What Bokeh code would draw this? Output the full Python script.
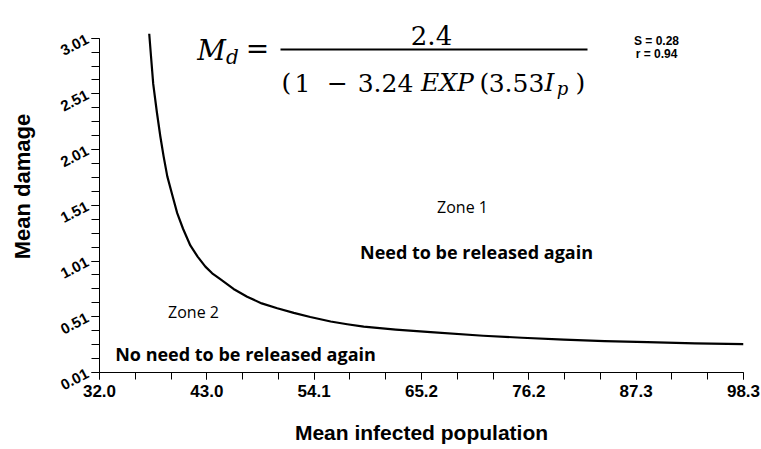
from bokeh.plotting import figure
from bokeh.models import Range1d, FixedTicker, Label, BoxAnnotation
from bokeh.embed import file_html
from bokeh.resources import INLINE

# ---- data ----
infected = [37.12, 37.3, 37.53, 37.9, 38.26, 38.6, 38.98, 39.5, 40.0, 40.6, 41.35, 42.1,
            42.9, 43.6, 44.4, 45.8, 47.2, 48.7, 50.3, 52.0, 53.7, 55.8, 57.5, 59.2,
            62.5, 66.1, 71.5, 75.5, 79.8, 84.0, 88.4, 93.3, 98.3]
damage = [3.05, 2.85, 2.60, 2.35, 2.13, 1.95, 1.77, 1.60, 1.44, 1.30, 1.15, 1.05,
          0.96, 0.90, 0.85, 0.76, 0.69, 0.63, 0.586, 0.545, 0.508, 0.468, 0.443, 0.421,
          0.395, 0.372, 0.340, 0.322, 0.305, 0.292, 0.282, 0.272, 0.264]

x_ticks = [32.0, 43.05, 54.1, 65.15, 76.2, 87.25, 98.3]
x_tick_labels = ["32.0", "43.0", "54.1", "65.2", "76.2", "87.3", "98.3"]
y_ticks = [0.01, 0.51, 1.01, 1.51, 2.01, 2.51, 3.01]
y_tick_labels = ["0.01", "0.51", "1.01", "1.51", "2.01", "2.51", "3.01"]

X0, X1 = 32.0, 98.3
Y0, Y1 = 0.01, 3.01

# pixel helpers for annotation placement (page px -> data)
PX0, PX1 = 99.0, 743.0
PY0, PY1 = 372.0, 37.7
def dx(px):
    return X0 + (px - PX0) * (X1 - X0) / (PX1 - PX0)
def dy(py):
    return Y0 + (PY0 - py) * (Y1 - Y0) / (PY0 - PY1)

p = figure(width=760, height=449, output_backend="svg", toolbar_location=None,
           x_range=Range1d(X0, X1), y_range=Range1d(Y0, dy(0)),
           min_border_left=99, min_border_right=17, min_border_top=0,
           min_border_bottom=77)
p.outline_line_color = None
p.xgrid.visible = False
p.ygrid.visible = False
p.background_fill_color = "white"

p.line(infected, damage, line_color="black", line_width=2.2, line_join="round")

SANS = "Liberation Sans"

xa = p.xaxis[0]
xa.ticker = FixedTicker(ticks=x_ticks,
                        minor_ticks=[X0 + (X1 - X0) / 18 * k for k in range(19)])
xa.major_label_overrides = {t: l for t, l in zip(x_ticks, x_tick_labels)}
xa.bounds = (X0, X1)
xa.axis_line_color = "black"
xa.major_tick_in = 0
xa.major_tick_out = 7
xa.minor_tick_in = 0
xa.minor_tick_out = 7
xa.major_label_text_font = SANS
xa.major_label_text_font_style = "bold"
xa.major_label_text_font_size = "17px"
xa.major_label_text_color = "black"
xa.major_label_standoff = 5
xa.axis_label = "Mean infected population"
xa.axis_label_text_font = SANS
xa.axis_label_text_font_style = "bold"
xa.axis_label_text_font_size = "21px"
xa.axis_label_text_color = "black"
xa.axis_label_standoff = 21

ya = p.yaxis[0]
ya.ticker = FixedTicker(ticks=y_ticks,
                        minor_ticks=[Y0 + (Y1 - Y0) / 24 * k for k in range(25)])
ya.major_label_overrides = {t: l for t, l in zip(y_ticks, y_tick_labels)}
ya.bounds = (Y0, Y1)
ya.axis_line_color = "black"
ya.major_tick_in = 0
ya.major_tick_out = 8
ya.minor_tick_in = 0
ya.minor_tick_out = 8
ya.major_label_orientation = 0.48
ya.major_label_text_font = SANS
ya.major_label_text_font_style = "bold"
ya.major_label_text_font_size = "15px"
ya.major_label_text_color = "black"
ya.major_label_standoff = 4
ya.axis_label = "Mean damage"
ya.axis_label_text_font = SANS
ya.axis_label_text_font_style = "bold"
ya.axis_label_text_font_size = "22px"
ya.axis_label_text_color = "black"
ya.axis_label_standoff = 19

def lab(text, px, py, font, size, style="normal", align="center", baseline="alphabetic"):
    p.add_layout(Label(x=dx(px), y=dy(py), text=text, text_font=font,
                       text_font_size=size, text_font_style=style, text_align=align,
                       text_baseline=baseline, text_color="black"))

SERIF = "DejaVu Serif"
# formula
lab("M", 211, 50, SERIF, "28px", "italic")
lab("d", 232, 56, SERIF, "20px", "italic")
lab("=", 257, 48, SERIF, "28px")
lab("2.4", 431, 35, SERIF, "26px")
p.add_layout(BoxAnnotation(left=dx(280), right=dx(587), top=dy(48), bottom=dy(50),
                           fill_color="black", fill_alpha=1, line_color=None))
DEN = "25px"
lab("(", 286, 82, SERIF, DEN)
lab("1", 302, 82, SERIF, DEN)
lab("\u2212", 337, 82, SERIF, DEN)
lab("3.24", 385, 82, SERIF, DEN)
lab("EXP", 447, 82, SERIF, DEN, "italic")
lab("(", 484, 82, SERIF, DEN)
lab("3.53", 516, 82, SERIF, DEN)
lab("I", 549, 82, SERIF, DEN, "italic")
lab("p", 562, 88, SERIF, "18px", "italic")
lab(")", 580, 82, SERIF, DEN)

lab("S = 0.28", 656, 40, SANS, "12px", "bold")
lab("r = 0.94", 656, 53, SANS, "12px", "bold")

ZF = "Open Sans"
lab("Zone 1", 462, 206, ZF, "16px", baseline="middle")
lab("Need to be released again", 476, 251, ZF, "18px", "bold", baseline="middle")
lab("Zone 2", 193, 311, ZF, "16px", baseline="middle")
lab("No need to be released again", 245, 353, ZF, "18px", "bold", baseline="middle")

open("out.html", "w").write(file_html(p, INLINE))
